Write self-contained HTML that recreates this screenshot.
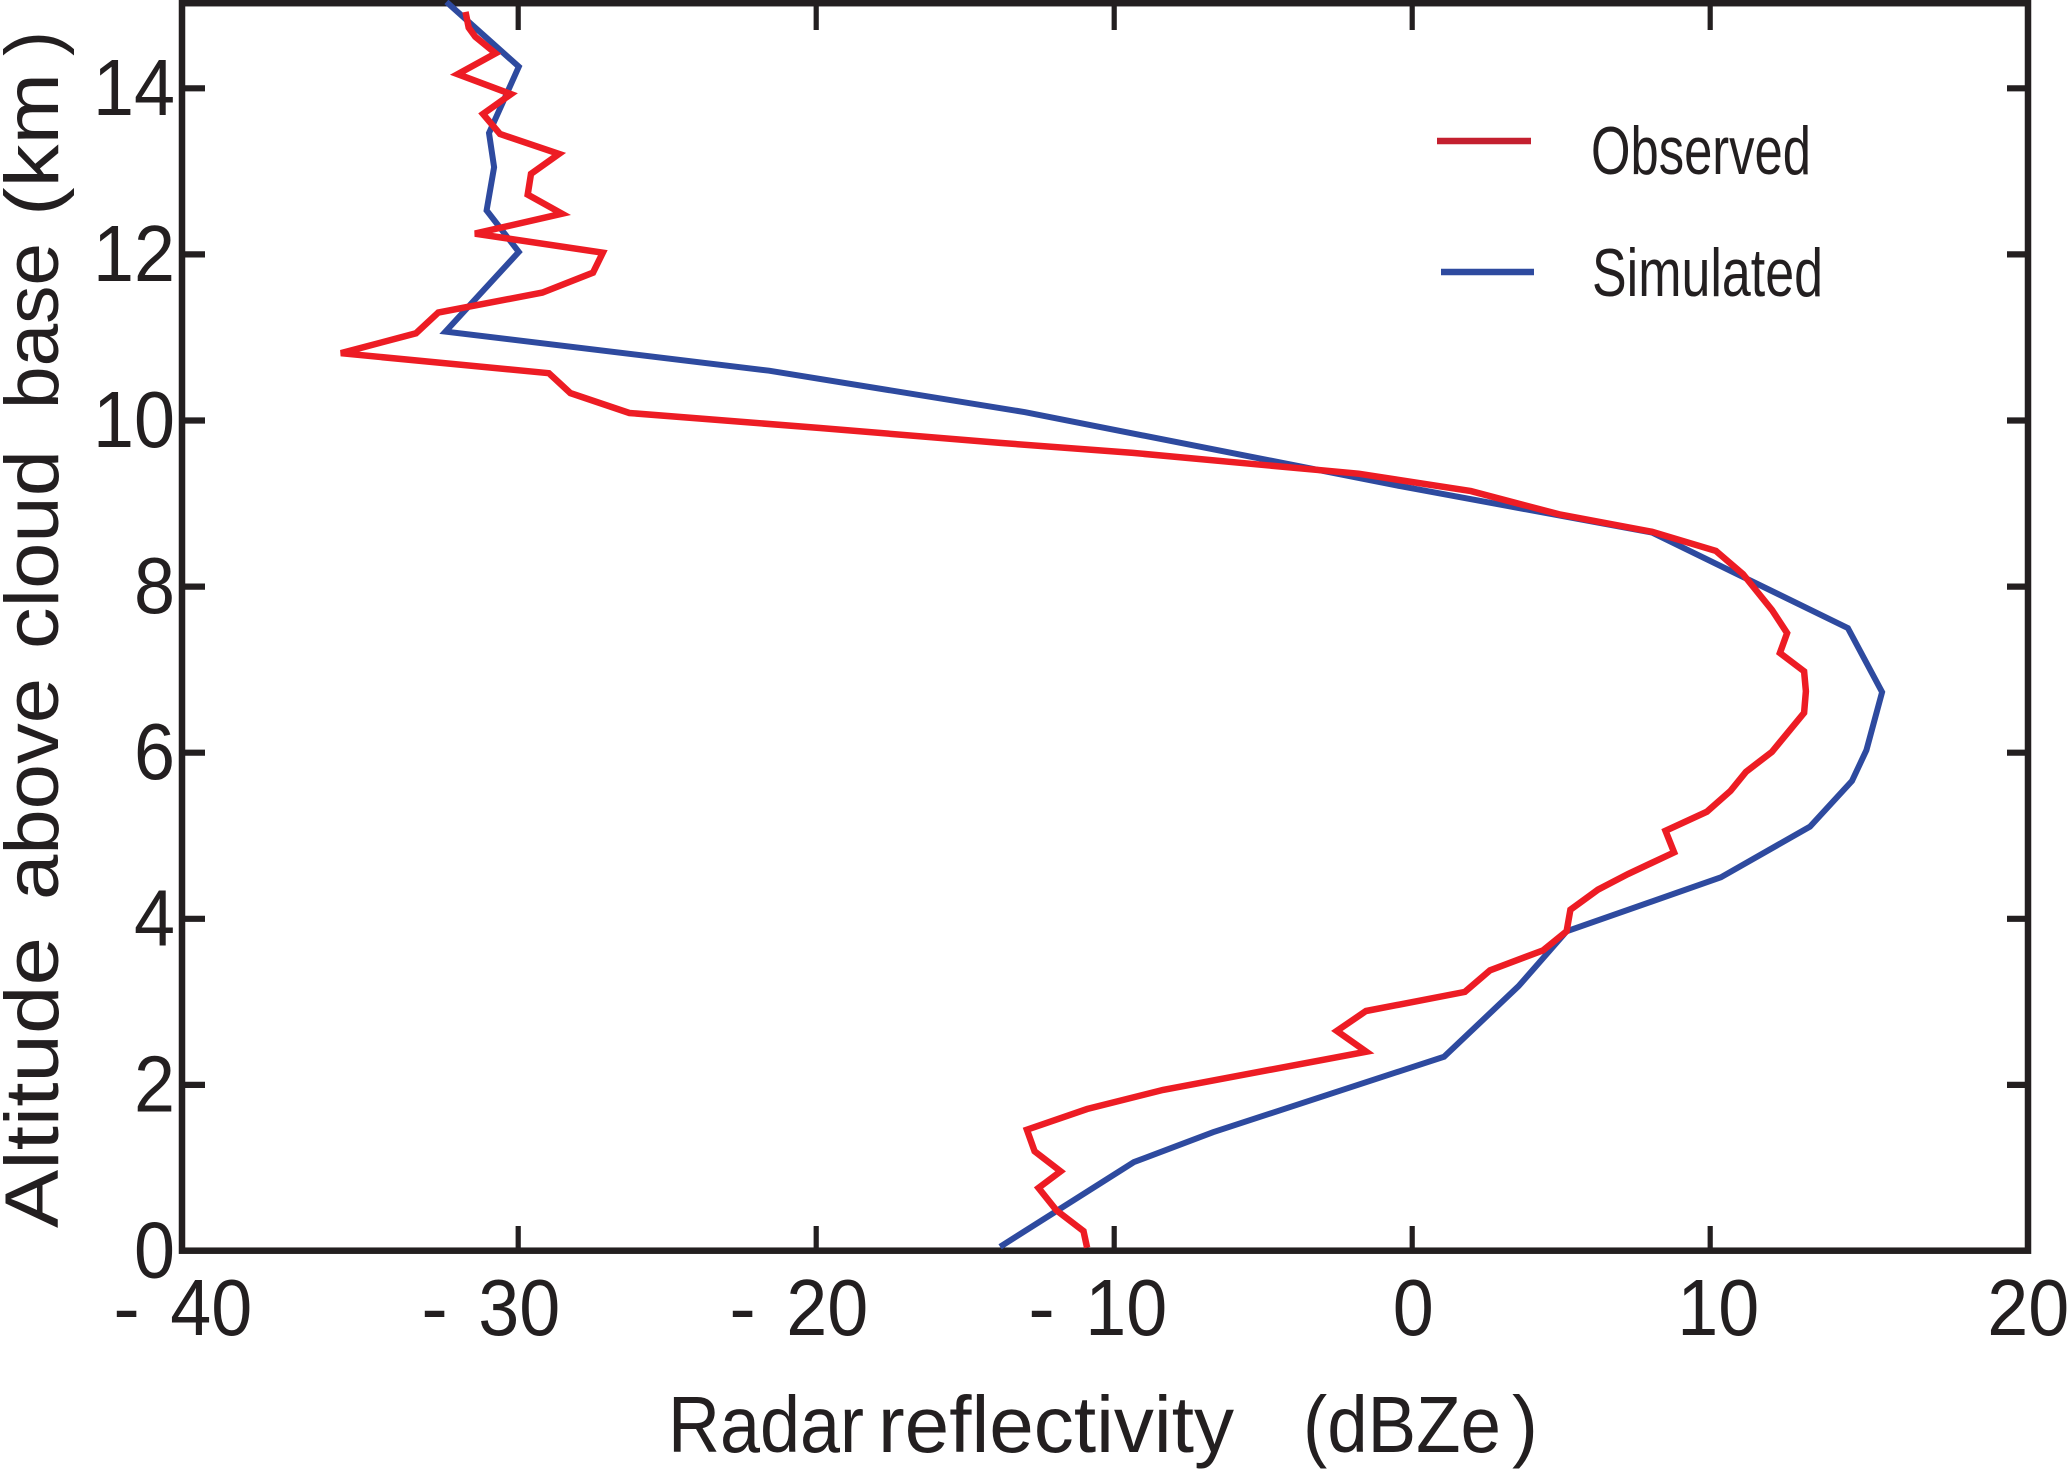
<!DOCTYPE html>
<html lang="en">
<head>
<meta charset="utf-8">
<title>Radar reflectivity profile</title>
<style>
  html, body { margin: 0; padding: 0; background: #fff; }
  #chart { display: block; width: 2067px; height: 1473px; }
  text { font-family: "Liberation Sans", sans-serif; fill: #231f20; white-space: pre; }
</style>
</head>
<body>
<svg id="chart" xmlns="http://www.w3.org/2000/svg" width="2067" height="1473" viewBox="0 0 2067 1473">
  <rect x="0" y="0" width="2067" height="1473" fill="#ffffff"/>
  <g id="ticks"></g>
  <rect x="182" y="3.2" width="1846" height="1247.5" fill="none" stroke="#231f20" stroke-width="6.5"/>
  <g id="tick-labels"></g>
  <g id="series"></g>

  <g font-size="80">
    <text x="668" y="1452" textLength="196" lengthAdjust="spacingAndGlyphs">Radar</text>
    <text x="878" y="1452" textLength="356" lengthAdjust="spacingAndGlyphs">reflectivity</text>
    <text x="1303" y="1452" textLength="198" lengthAdjust="spacingAndGlyphs">(dBZe</text>
    <text x="1512" y="1452" textLength="26" lengthAdjust="spacingAndGlyphs">)</text>
  </g>

  <g font-size="76">
    <text transform="translate(58,1228) rotate(-90)" textLength="291" lengthAdjust="spacingAndGlyphs">Altitude</text>
    <text transform="translate(58,900) rotate(-90)" textLength="222" lengthAdjust="spacingAndGlyphs">above</text>
    <text transform="translate(58,649) rotate(-90)" textLength="199" lengthAdjust="spacingAndGlyphs">cloud</text>
    <text transform="translate(58,409) rotate(-90)" textLength="166" lengthAdjust="spacingAndGlyphs">base</text>
    <text transform="translate(58,216) rotate(-90)" textLength="143" lengthAdjust="spacingAndGlyphs">(km</text>
    <text transform="translate(58,56) rotate(-90)" textLength="25" lengthAdjust="spacingAndGlyphs">)</text>
  </g>

  <g>
    <line x1="1437" y1="141" x2="1531" y2="141" stroke="#c4202f" stroke-width="6.5"/>
    <text x="1591" y="174" font-size="68" textLength="220" lengthAdjust="spacingAndGlyphs">Observed</text>
    <line x1="1441" y1="272" x2="1534" y2="272" stroke="#2e4a9f" stroke-width="6.5"/>
    <text x="1592" y="296" font-size="68" textLength="231" lengthAdjust="spacingAndGlyphs">Simulated</text>
  </g>
</svg>
<script>
const xTickValues = [-40, -30, -20, -10, 0, 10, 20];
const xTickLabels = ["40", "30", "20", "10", "0", "10", "20"];
const yTickValues = [0, 2, 4, 6, 8, 10, 12, 14];
const yTickLabels = ["0", "2", "4", "6", "8", "10", "12", "14"];

const observedDbz = [-31.77, -31.66, -31.44, -30.76, -32.03, -30.24, -31.18, -30.61, -28.63, -29.57, -29.68, -28.53, -31.45, -27.16, -27.49, -29.19, -32.68, -33.43, -35.95, -28.97, -28.25, -26.27, -19.87, -13.83, -9.37, -4.87, -1.80, 1.97, 4.93, 8.05, 10.19, 11.10, 12.07, 12.58, 12.34, 13.15, 13.21, 13.15, 12.07, 11.20, 10.68, 9.89, 8.50, 8.79, 7.24, 6.23, 5.31, 5.18, 4.39, 2.61, 1.77, -1.55, -2.53, -1.54, -8.36, -10.91, -12.93, -12.67, -11.80, -12.54, -11.94, -11.03, -10.91];
const observedAltitude = [14.92, 14.73, 14.62, 14.42, 14.17, 13.93, 13.69, 13.45, 13.21, 12.97, 12.72, 12.49, 12.25, 12.02, 11.78, 11.54, 11.30, 11.05, 10.81, 10.57, 10.33, 10.09, 9.91, 9.73, 9.61, 9.46, 9.36, 9.15, 8.87, 8.66, 8.43, 8.15, 7.72, 7.44, 7.20, 6.98, 6.74, 6.48, 6.01, 5.77, 5.54, 5.29, 5.06, 4.80, 4.54, 4.35, 4.11, 3.85, 3.62, 3.38, 3.12, 2.89, 2.65, 2.40, 1.94, 1.71, 1.46, 1.20, 0.96, 0.76, 0.49, 0.24, 0.04];

const simulatedDbz = [-32.41, -29.98, -30.98, -30.81, -31.06, -29.98, -32.44, -21.58, -12.99, -0.41, 8.05, 14.62, 15.77, 15.24, 14.76, 13.35, 10.36, 5.18, 3.57, 1.07, -6.68, -9.34, -13.83];
const simulatedAltitude = [15.04, 14.26, 13.46, 13.05, 12.53, 12.03, 11.07, 10.60, 10.10, 9.21, 8.65, 7.50, 6.73, 6.03, 5.66, 5.11, 4.50, 3.85, 3.19, 2.34, 1.43, 1.07, 0.05];

const SVG_NS = "http://www.w3.org/2000/svg";
const FRAME_LEFT = 182;
const FRAME_RIGHT = 2028;
const FRAME_TOP = 3;
const FRAME_BOTTOM = 1250.7;

function xScale(v) { return 1412.2 + 29.8 * v; }
function yScale(km) { return 1251 - 83.05 * km; }

const tickGroup = document.getElementById("ticks");
const labelGroup = document.getElementById("tick-labels");
const seriesGroup = document.getElementById("series");

function makeLine(x1, y1, x2, y2, width) {
  const el = document.createElementNS(SVG_NS, "line");
  el.setAttribute("x1", x1);
  el.setAttribute("y1", y1);
  el.setAttribute("x2", x2);
  el.setAttribute("y2", y2);
  el.setAttribute("stroke", "#231f20");
  el.setAttribute("stroke-width", width);
  return el;
}

function makeText(str, x, y, anchor, length) {
  const el = document.createElementNS(SVG_NS, "text");
  el.textContent = str;
  el.setAttribute("x", x);
  el.setAttribute("y", y);
  el.setAttribute("font-size", "80");
  el.setAttribute("text-anchor", anchor);
  if (length) {
    el.setAttribute("textLength", length);
    el.setAttribute("lengthAdjust", "spacingAndGlyphs");
  }
  return el;
}

// X ticks: the outer two labels sit on the frame edges, so only the inner values get tick marks.
xTickValues.forEach(function (v, i) {
  if (v > -40 && v < 20) {
    const bottomTick = makeLine(xScale(v), FRAME_BOTTOM, xScale(v), 1226, 5.2);
    
    
    tickGroup.appendChild(bottomTick);
    const topTick = makeLine(xScale(v), FRAME_TOP, xScale(v), 30, 5.2);
    
    
    tickGroup.appendChild(topTick);
  }
  const labelNudge = [-9, 1, 11, 12, 1, 8, 20][i];
  const centre = xScale(v) + labelNudge;
  const digits = xTickLabels[i];
  const digitWidth = digits.length * 41;
  const group = document.createElementNS(SVG_NS, "g");
  
  
  if (v < 0) {
    const dash = makeText("-", centre - digitWidth / 2 - 57, 1335, "start");
    
    
    group.appendChild(dash);
  }
  const digitText = makeText(digits, centre - digitWidth / 2, 1335, "start", digitWidth);
  
  
  group.appendChild(digitText);
  labelGroup.appendChild(group);
});

yTickValues.forEach(function (km, i) {
  if (km > 0) {
    const leftTick = makeLine(FRAME_LEFT, yScale(km), 205, yScale(km), 6.2);
    
    
    tickGroup.appendChild(leftTick);
    const rightTick = makeLine(2007, yScale(km), FRAME_RIGHT, yScale(km), 6.2);
    
    
    tickGroup.appendChild(rightTick);
  }
  const digits = yTickLabels[i];
  const digitWidth = digits.length * 41;
  const label = makeText(digits, 175 - digitWidth, yScale(km) + 26.5, "start", digitWidth);
  
  
  labelGroup.appendChild(label);
});

function pointsFrom(xs, ys) {
  return xs.map(function (v, i) {
    return xScale(v).toFixed(1) + "," + yScale(ys[i]).toFixed(1);
  }).join(" ");
}

const observedLine = document.createElementNS(SVG_NS, "polyline");


observedLine.setAttribute("points", pointsFrom(observedDbz, observedAltitude));
observedLine.setAttribute("fill", "none");
observedLine.setAttribute("stroke", "#ed1c24");
observedLine.setAttribute("stroke-width", "6.5");
observedLine.setAttribute("stroke-linejoin", "miter");
observedLine.setAttribute("stroke-miterlimit", "4");

const simulatedLine = document.createElementNS(SVG_NS, "polyline");


simulatedLine.setAttribute("points", pointsFrom(simulatedDbz, simulatedAltitude));
simulatedLine.setAttribute("fill", "none");
simulatedLine.setAttribute("stroke", "#2e4a9f");
simulatedLine.setAttribute("stroke-width", "6");
simulatedLine.setAttribute("stroke-linejoin", "miter");
simulatedLine.setAttribute("stroke-miterlimit", "4");

seriesGroup.appendChild(simulatedLine);
seriesGroup.appendChild(observedLine);
</script>
</body>
</html>
